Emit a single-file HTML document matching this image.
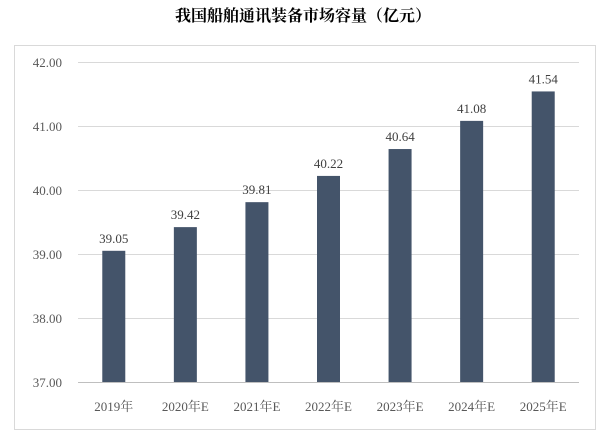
<!DOCTYPE html>
<html><head><meta charset="utf-8"><style>
body{margin:0;background:#fff;width:606px;height:434px;overflow:hidden}
text{font-family:"Liberation Serif","Noto Serif CJK SC",serif}
</style></head><body>
<svg id="chart" width="606" height="434" xmlns="http://www.w3.org/2000/svg">
<text x="303" y="21" text-anchor="middle" font-size="16" font-weight="bold" fill="#000" style="font-family:'Noto Serif CJK SC','Noto Sans CJK SC',serif">我国船舶通讯装备市场容量（亿元）</text>
<rect x="14.5" y="45.5" width="581" height="384" fill="none" stroke="#d9d9d9"/>
<g id="grid"></g><g id="bars"></g>
</svg>
<script>
const categories=["2019年","2020年E","2021年E","2022年E","2023年E","2024年E","2025年E"];
const values=[39.05,39.42,39.81,40.22,40.64,41.08,41.54];
const ticks=[37,38,39,40,41,42];
const NS="http://www.w3.org/2000/svg";
const x0=78,x1=579,yMin=37,yMax=42,yTop=62,yBot=382;
const y=v=>yBot-(v-yMin)/(yMax-yMin)*(yBot-yTop);
const band=(x1-x0)/categories.length;
const g=document.getElementById('grid'),b=document.getElementById('bars');
function mk(t,a,p){const e=document.createElementNS(NS,t);for(const k in a)e.setAttribute(k,a[k]);p.appendChild(e);return e;}
ticks.forEach(t=>{
 const l=mk('line',{x1:x0,x2:x1,y1:y(t)+0.5,y2:y(t)+0.5,stroke:t===yMin?'#bfbfbf':'#d9d9d9'},g);
 
 
 const tx=mk('text',{x:62,y:y(t)+5,'text-anchor':'end','font-size':13,fill:'#595959'},g);
 tx.textContent=t.toFixed(2);
 
 
});
categories.forEach((c,i)=>{
 const cx=x0+band*(i+0.5),w=23;
 const r=mk('rect',{x:cx-w/2,y:y(values[i]),width:w,height:yBot-y(values[i]),fill:'#44546a'},b);
 
 
 const v=mk('text',{x:cx,y:y(values[i])-8,'text-anchor':'middle','font-size':13,fill:'#404040'},b);
 v.textContent=values[i].toFixed(2);
 
 
 const xl=mk('text',{x:cx,y:411,'text-anchor':'middle','font-size':13,fill:'#595959'},b);
 xl.textContent=c;
 
 
});
</script>
</body></html>
